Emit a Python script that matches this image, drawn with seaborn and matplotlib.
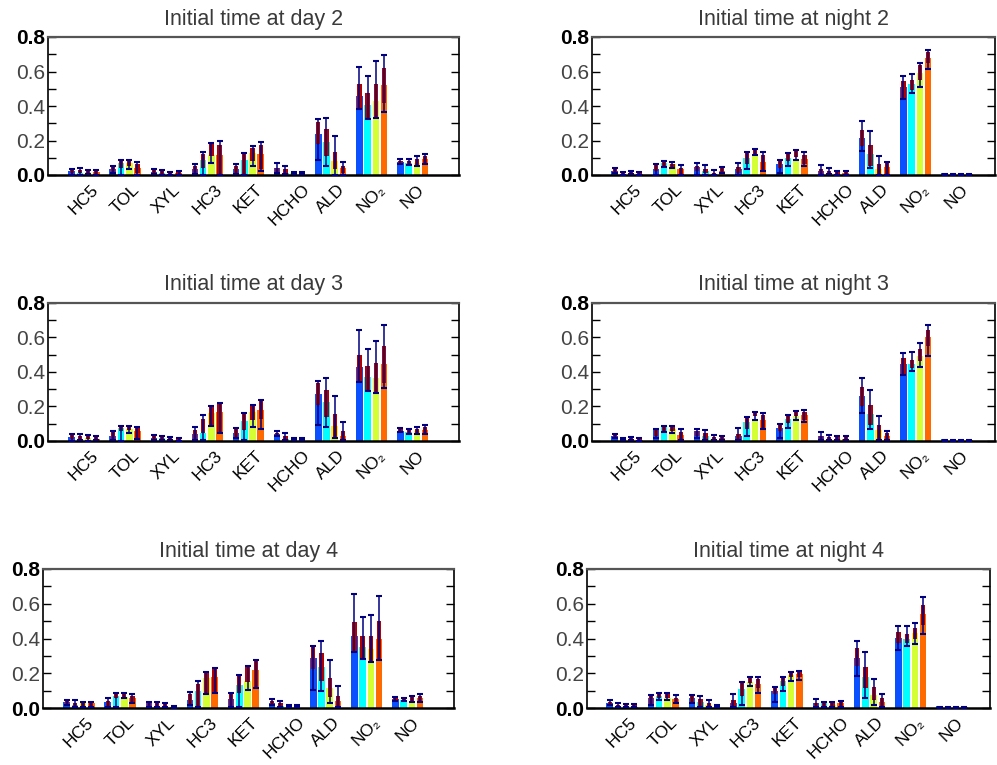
import numpy as np
import pandas as pd
import matplotlib
matplotlib.use("Agg")
import matplotlib.pyplot as plt
import seaborn as sns

SPECIES = ["HC5", "TOL", "XYL", "HC3", "KET", "HCHO", "ALD", "NO₂", "NO"]
RUNS = ["run1", "run2", "run3", "run4"]
RUN_COLORS = ["#0A50FF", "#00FFFF", "#D4FF33", "#FF6A00"]
TITLES = ["Initial time at day 2", "Initial time at night 2",
          "Initial time at day 3", "Initial time at night 3",
          "Initial time at day 4", "Initial time at night 4"]
YTICKS = [0.0, 0.2, 0.4, 0.6, 0.8]
YTICK_LABELS = ["0.0", "0.2", "0.4", "0.6", "0.8"]

# rows: species, columns: runs
DAY2_MEAN = [[0.025, 0.010, 0.015, 0.020], [0.033, 0.070, 0.070, 0.040], [0.020, 0.010, 0.005, 0.010],
             [0.037, 0.085, 0.116, 0.116], [0.037, 0.085, 0.126, 0.124], [0.039, 0.014, 0.014, 0.014],
             [0.240, 0.190, 0.080, 0.043], [0.456, 0.406, 0.430, 0.520], [0.075, 0.071, 0.068, 0.095]]
DAY2_BOX_LO = [[0.010, 0.010, 0.010, 0.005], [0.014, 0.043, 0.055, 0.014], [0.010, 0.005, 0.000, 0.005],
               [0.008, 0.043, 0.110, 0.000], [0.005, 0.000, 0.081, 0.033], [0.014, 0.008, 0.005, 0.005],
               [0.178, 0.110, 0.033, 0.014], [0.380, 0.323, 0.330, 0.420], [0.062, 0.058, 0.052, 0.071]]
DAY2_BOX_HI = [[0.030, 0.030, 0.030, 0.025], [0.052, 0.080, 0.080, 0.062], [0.030, 0.025, 0.020, 0.020],
               [0.052, 0.120, 0.180, 0.174], [0.052, 0.124, 0.158, 0.174], [0.043, 0.037, 0.020, 0.020],
               [0.309, 0.267, 0.133, 0.052], [0.530, 0.475, 0.530, 0.620], [0.081, 0.083, 0.095, 0.108]]
DAY2_ERR_LO = [[0.000, 0.000, 0.005, 0.000], [0.014, 0.000, 0.035, 0.000], [0.005, 0.000, 0.000, 0.000],
               [0.008, 0.000, 0.072, 0.000], [0.005, 0.000, 0.052, 0.023], [0.014, 0.008, 0.005, 0.005],
               [0.085, 0.054, 0.000, 0.000], [0.380, 0.323, 0.330, 0.365], [0.062, 0.058, 0.052, 0.062]]
DAY2_ERR_HI = [[0.035, 0.043, 0.030, 0.030], [0.052, 0.085, 0.085, 0.078], [0.033, 0.027, 0.020, 0.023],
               [0.066, 0.135, 0.187, 0.200], [0.062, 0.130, 0.168, 0.190], [0.068, 0.054, 0.020, 0.020],
               [0.325, 0.330, 0.226, 0.075], [0.628, 0.572, 0.660, 0.696], [0.095, 0.095, 0.108, 0.124]]

NIGHT2_MEAN = [[0.023, 0.008, 0.014, 0.008], [0.033, 0.068, 0.062, 0.033], [0.046, 0.023, 0.004, 0.023],
               [0.033, 0.100, 0.124, 0.075], [0.062, 0.100, 0.095, 0.091], [0.023, 0.008, 0.008, 0.014],
               [0.216, 0.120, 0.033, 0.046], [0.510, 0.526, 0.593, 0.680], [0.012, 0.008, 0.004, 0.004]]
NIGHT2_BOX_LO = [[0.014, 0.002, 0.005, 0.002], [0.023, 0.052, 0.043, 0.000], [0.023, 0.014, 0.000, 0.014],
                 [0.014, 0.066, 0.116, 0.023], [0.043, 0.081, 0.104, 0.062], [0.000, 0.004, 0.000, 0.000],
                 [0.168, 0.052, 0.000, 0.000], [0.439, 0.490, 0.551, 0.651], [0.000, 0.000, 0.000, 0.000]]
NIGHT2_BOX_HI = [[0.033, 0.015, 0.015, 0.012], [0.062, 0.075, 0.066, 0.043], [0.052, 0.037, 0.014, 0.043],
                 [0.046, 0.133, 0.145, 0.116], [0.085, 0.124, 0.139, 0.116], [0.033, 0.023, 0.020, 0.021],
                 [0.260, 0.174, 0.062, 0.068], [0.545, 0.549, 0.638, 0.713], [0.005, 0.005, 0.005, 0.005]]
NIGHT2_ERR_LO = [[0.014, 0.002, 0.005, 0.002], [0.000, 0.046, 0.039, 0.000], [0.000, 0.000, 0.000, 0.014],
                 [0.000, 0.035, 0.116, 0.023], [0.010, 0.052, 0.085, 0.052], [0.000, 0.004, 0.000, 0.000],
                 [0.139, 0.043, 0.000, 0.000], [0.439, 0.477, 0.510, 0.613], [0.000, 0.000, 0.000, 0.000]]
NIGHT2_ERR_HI = [[0.043, 0.015, 0.021, 0.015], [0.062, 0.081, 0.075, 0.056], [0.068, 0.056, 0.027, 0.048],
                 [0.068, 0.133, 0.153, 0.135], [0.085, 0.126, 0.145, 0.135], [0.056, 0.039, 0.023, 0.025],
                 [0.311, 0.253, 0.110, 0.077], [0.576, 0.584, 0.651, 0.727], [0.007, 0.007, 0.006, 0.006]]

DAY3_MEAN = [[0.025, 0.010, 0.015, 0.012], [0.031, 0.075, 0.071, 0.056], [0.017, 0.017, 0.008, 0.004],
             [0.040, 0.046, 0.162, 0.166], [0.044, 0.114, 0.166, 0.182], [0.040, 0.014, 0.008, 0.008],
             [0.274, 0.224, 0.089, 0.031], [0.427, 0.369, 0.365, 0.444], [0.056, 0.050, 0.056, 0.066]]
DAY3_BOX_LO = [[0.010, 0.005, 0.010, 0.005], [0.008, 0.056, 0.062, 0.017], [0.004, 0.008, 0.004, 0.000],
               [0.004, 0.046, 0.085, 0.046], [0.017, 0.066, 0.120, 0.130], [0.027, 0.008, 0.004, 0.004],
               [0.209, 0.137, 0.023, 0.004], [0.340, 0.292, 0.278, 0.336], [0.050, 0.043, 0.046, 0.046]]
DAY3_BOX_HI = [[0.035, 0.030, 0.030, 0.025], [0.052, 0.085, 0.085, 0.075], [0.033, 0.027, 0.021, 0.012],
               [0.062, 0.130, 0.197, 0.216], [0.070, 0.158, 0.205, 0.236], [0.046, 0.031, 0.017, 0.017],
               [0.334, 0.298, 0.158, 0.056], [0.500, 0.433, 0.450, 0.549], [0.071, 0.068, 0.071, 0.079]]
DAY3_ERR_LO = [[0.000, 0.005, 0.000, 0.005], [0.008, 0.000, 0.046, 0.014], [0.004, 0.008, 0.004, 0.000],
               [0.004, 0.004, 0.085, 0.046], [0.017, 0.004, 0.079, 0.071], [0.027, 0.008, 0.004, 0.004],
               [0.095, 0.081, 0.017, 0.004], [0.340, 0.292, 0.278, 0.307], [0.050, 0.043, 0.043, 0.043]]
DAY3_ERR_HI = [[0.038, 0.043, 0.033, 0.031], [0.056, 0.089, 0.089, 0.081], [0.037, 0.031, 0.021, 0.015],
               [0.079, 0.149, 0.205, 0.220], [0.077, 0.162, 0.210, 0.240], [0.060, 0.044, 0.017, 0.017],
               [0.348, 0.367, 0.263, 0.108], [0.643, 0.535, 0.582, 0.674], [0.075, 0.072, 0.081, 0.095]]

NIGHT3_MEAN = [[0.027, 0.012, 0.012, 0.008], [0.066, 0.079, 0.070, 0.037], [0.056, 0.031, 0.012, 0.017],
               [0.027, 0.108, 0.128, 0.120], [0.077, 0.128, 0.147, 0.153], [0.027, 0.008, 0.012, 0.012],
               [0.263, 0.157, 0.062, 0.031], [0.446, 0.446, 0.491, 0.601], [0.012, 0.008, 0.004, 0.004]]
NIGHT3_BOX_LO = [[0.017, 0.004, 0.006, 0.002], [0.027, 0.056, 0.056, 0.004], [0.027, 0.014, 0.004, 0.004],
                 [0.008, 0.070, 0.143, 0.075], [0.056, 0.104, 0.147, 0.124], [0.004, 0.004, 0.004, 0.004],
                 [0.205, 0.095, 0.004, 0.004], [0.385, 0.423, 0.462, 0.549], [0.000, 0.000, 0.000, 0.000]]
NIGHT3_BOX_HI = [[0.037, 0.017, 0.017, 0.014], [0.066, 0.081, 0.081, 0.050], [0.060, 0.046, 0.021, 0.023],
                 [0.040, 0.141, 0.166, 0.149], [0.100, 0.151, 0.176, 0.168], [0.027, 0.023, 0.023, 0.023],
                 [0.311, 0.210, 0.095, 0.048], [0.479, 0.471, 0.531, 0.645], [0.005, 0.005, 0.005, 0.005]]
NIGHT3_ERR_LO = [[0.017, 0.004, 0.006, 0.002], [0.017, 0.050, 0.046, 0.004], [0.017, 0.004, 0.004, 0.004],
                 [0.004, 0.027, 0.124, 0.070], [0.017, 0.075, 0.120, 0.108], [0.004, 0.004, 0.004, 0.004],
                 [0.164, 0.070, 0.004, 0.004], [0.385, 0.404, 0.427, 0.495], [0.000, 0.000, 0.000, 0.000]]
NIGHT3_ERR_HI = [[0.043, 0.019, 0.021, 0.017], [0.071, 0.085, 0.085, 0.068], [0.071, 0.064, 0.037, 0.027],
                 [0.075, 0.141, 0.168, 0.162], [0.100, 0.153, 0.176, 0.180], [0.052, 0.035, 0.027, 0.027],
                 [0.363, 0.296, 0.147, 0.060], [0.510, 0.516, 0.568, 0.672], [0.007, 0.007, 0.006, 0.006]]

DAY4_MEAN = [[0.033, 0.017, 0.027, 0.027], [0.037, 0.070, 0.066, 0.060], [0.027, 0.012, 0.008, 0.004],
             [0.046, 0.095, 0.172, 0.181], [0.050, 0.133, 0.153, 0.220], [0.031, 0.012, 0.008, 0.008],
             [0.288, 0.235, 0.114, 0.042], [0.417, 0.351, 0.340, 0.398], [0.050, 0.044, 0.042, 0.056]]
DAY4_BOX_LO = [[0.017, 0.008, 0.008, 0.004], [0.008, 0.056, 0.062, 0.031], [0.004, 0.008, 0.004, 0.002],
               [0.017, 0.004, 0.081, 0.089], [0.004, 0.085, 0.149, 0.114], [0.017, 0.004, 0.004, 0.004],
               [0.226, 0.156, 0.066, 0.004], [0.320, 0.282, 0.263, 0.278], [0.042, 0.039, 0.037, 0.037]]
DAY4_BOX_HI = [[0.040, 0.027, 0.031, 0.031], [0.042, 0.085, 0.085, 0.070], [0.033, 0.027, 0.021, 0.012],
               [0.079, 0.139, 0.205, 0.224], [0.079, 0.187, 0.236, 0.268], [0.040, 0.027, 0.017, 0.017],
               [0.349, 0.317, 0.172, 0.070], [0.494, 0.413, 0.413, 0.500], [0.062, 0.056, 0.066, 0.071]]
DAY4_ERR_LO = [[0.017, 0.004, 0.008, 0.004], [0.008, 0.008, 0.056, 0.027], [0.004, 0.008, 0.004, 0.002],
               [0.017, 0.004, 0.081, 0.089], [0.004, 0.004, 0.104, 0.114], [0.017, 0.004, 0.004, 0.004],
               [0.104, 0.095, 0.027, 0.004], [0.320, 0.282, 0.263, 0.278], [0.042, 0.039, 0.037, 0.033]]
DAY4_ERR_HI = [[0.044, 0.044, 0.033, 0.033], [0.056, 0.089, 0.089, 0.079], [0.037, 0.037, 0.027, 0.014],
               [0.091, 0.153, 0.210, 0.228], [0.087, 0.189, 0.240, 0.274], [0.052, 0.039, 0.017, 0.019],
               [0.357, 0.388, 0.278, 0.124], [0.654, 0.523, 0.533, 0.643], [0.066, 0.060, 0.070, 0.079]]

NIGHT4_MEAN = [[0.031, 0.012, 0.012, 0.008], [0.060, 0.071, 0.060, 0.052], [0.058, 0.037, 0.017, 0.008],
               [0.027, 0.108, 0.147, 0.139], [0.098, 0.158, 0.191, 0.195], [0.027, 0.027, 0.017, 0.027],
               [0.290, 0.178, 0.075, 0.037], [0.403, 0.398, 0.432, 0.539], [0.012, 0.008, 0.004, 0.004]]
NIGHT4_BOX_LO = [[0.017, 0.004, 0.008, 0.004], [0.017, 0.060, 0.056, 0.027], [0.031, 0.008, 0.004, 0.004],
                 [0.004, 0.070, 0.143, 0.114], [0.079, 0.124, 0.178, 0.176], [0.004, 0.004, 0.004, 0.004],
                 [0.239, 0.114, 0.046, 0.004], [0.375, 0.375, 0.400, 0.475], [0.000, 0.000, 0.000, 0.000]]
NIGHT4_BOX_HI = [[0.037, 0.019, 0.023, 0.017], [0.070, 0.085, 0.079, 0.056], [0.068, 0.050, 0.031, 0.017],
                 [0.046, 0.149, 0.172, 0.166], [0.120, 0.178, 0.207, 0.207], [0.031, 0.037, 0.037, 0.037],
                 [0.344, 0.236, 0.118, 0.056], [0.438, 0.427, 0.461, 0.593], [0.005, 0.005, 0.005, 0.005]]
NIGHT4_ERR_LO = [[0.017, 0.004, 0.008, 0.004], [0.017, 0.046, 0.046, 0.027], [0.027, 0.004, 0.004, 0.004],
                 [0.004, 0.017, 0.124, 0.089], [0.037, 0.095, 0.153, 0.162], [0.004, 0.004, 0.004, 0.004],
                 [0.185, 0.056, 0.017, 0.004], [0.336, 0.355, 0.369, 0.425], [0.000, 0.000, 0.000, 0.000]]
NIGHT4_ERR_HI = [[0.046, 0.027, 0.025, 0.023], [0.075, 0.089, 0.089, 0.075], [0.075, 0.071, 0.046, 0.019],
                 [0.079, 0.149, 0.181, 0.178], [0.120, 0.180, 0.210, 0.214], [0.050, 0.037, 0.037, 0.042],
                 [0.388, 0.324, 0.168, 0.081], [0.471, 0.471, 0.490, 0.639], [0.007, 0.007, 0.006, 0.006]]

PANEL_DATA = [
    (DAY2_MEAN, DAY2_BOX_LO, DAY2_BOX_HI, DAY2_ERR_LO, DAY2_ERR_HI),
    (NIGHT2_MEAN, NIGHT2_BOX_LO, NIGHT2_BOX_HI, NIGHT2_ERR_LO, NIGHT2_ERR_HI),
    (DAY3_MEAN, DAY3_BOX_LO, DAY3_BOX_HI, DAY3_ERR_LO, DAY3_ERR_HI),
    (NIGHT3_MEAN, NIGHT3_BOX_LO, NIGHT3_BOX_HI, NIGHT3_ERR_LO, NIGHT3_ERR_HI),
    (DAY4_MEAN, DAY4_BOX_LO, DAY4_BOX_HI, DAY4_ERR_LO, DAY4_ERR_HI),
    (NIGHT4_MEAN, NIGHT4_BOX_LO, NIGHT4_BOX_HI, NIGHT4_ERR_LO, NIGHT4_ERR_HI),
]

sns.set_theme(style="white")
plt.rcParams["font.family"] = ["Liberation Sans", "DejaVu Sans"]

W, H = 997, 765
fig = plt.figure(figsize=(W / 100, H / 100), dpi=100)

# axes boxes in pixels: (left, right, top, bottom)
BOXES = [(48, 459, 37, 175), (592, 995, 37, 175),
         (48, 459, 303, 441), (592, 995, 303, 441),
         (43, 454, 569, 708), (587, 990, 569, 708)]
XLIMS = [(-0.876, 9.124), (-0.85, 8.92)]

offsets = np.array([-0.3, -0.1, 0.1, 0.3])

for k, (box, title, data) in enumerate(zip(BOXES, TITLES, PANEL_DATA)):
    l, r, t, b = box
    ax = fig.add_axes([l / W, 1 - b / H, (r - l) / W, (b - t) / H])
    mean, blo, bhi, elo, ehi = [np.array(a) for a in data]
    df = pd.DataFrame({
        "species": np.repeat(SPECIES, len(RUNS)),
        "run": RUNS * len(SPECIES),
        "value": mean.ravel(),
    })
    sns.barplot(data=df, x="species", y="value", hue="run", order=SPECIES,
                hue_order=RUNS, palette=RUN_COLORS, saturation=1, width=0.8,
                gap=0.2, errorbar=None, legend=False, ax=ax, linewidth=0)
    pos = (np.arange(len(SPECIES))[:, None] + offsets[None, :]).ravel()
    ax.bar(pos, (bhi - blo).ravel(), bottom=blo.ravel(), width=0.105,
           color="#B00000", linewidth=0, zorder=3)
    mid = ((ehi + elo) / 2).ravel()
    yerr = np.vstack([mid - elo.ravel(), ehi.ravel() - mid])
    ax.errorbar(pos, mid, yerr=yerr, fmt="none", ecolor="#000080",
                elinewidth=1.1, capsize=2.2, capthick=1.5, zorder=5)

    ax.set_xlim(*XLIMS[k % 2])
    ax.set_ylim(0, 0.8)
    ax.set_xlabel("")
    ax.set_ylabel("")
    ax.set_xticks(range(len(SPECIES)))
    ax.set_xticklabels(SPECIES, rotation=45, ha="center", va="top",
                       fontsize=12.5, color="black")
    ax.tick_params(axis="x", length=0, pad=5)
    ax.set_yticks(YTICKS)
    ax.set_yticks(np.arange(0.1, 0.8, 0.2), minor=True)
    labels = ax.set_yticklabels(YTICK_LABELS, fontsize=15)
    for lab in labels:
        if lab.get_text() in ("0.0", "0.8"):
            lab.set_fontweight("bold")
            lab.set_color("black")
        else:
            lab.set_color("#444444")
    ax.tick_params(axis="y", which="both", direction="in", length=6,
                   width=1, left=True, right=True, color="black", pad=2)
    for side, sp in ax.spines.items():
        sp.set_visible(True)
        sp.set_color("black")
        sp.set_linewidth(1.2)
    ax.spines["top"].set_color("#555555")
    ax.spines["top"].set_linewidth(1.6)
    ax.spines["bottom"].set_linewidth(1.8)
    ax.set_title(title, fontsize=15.5, color="#3a3a3a", pad=9)

fig.savefig("out.png", dpi=100)
